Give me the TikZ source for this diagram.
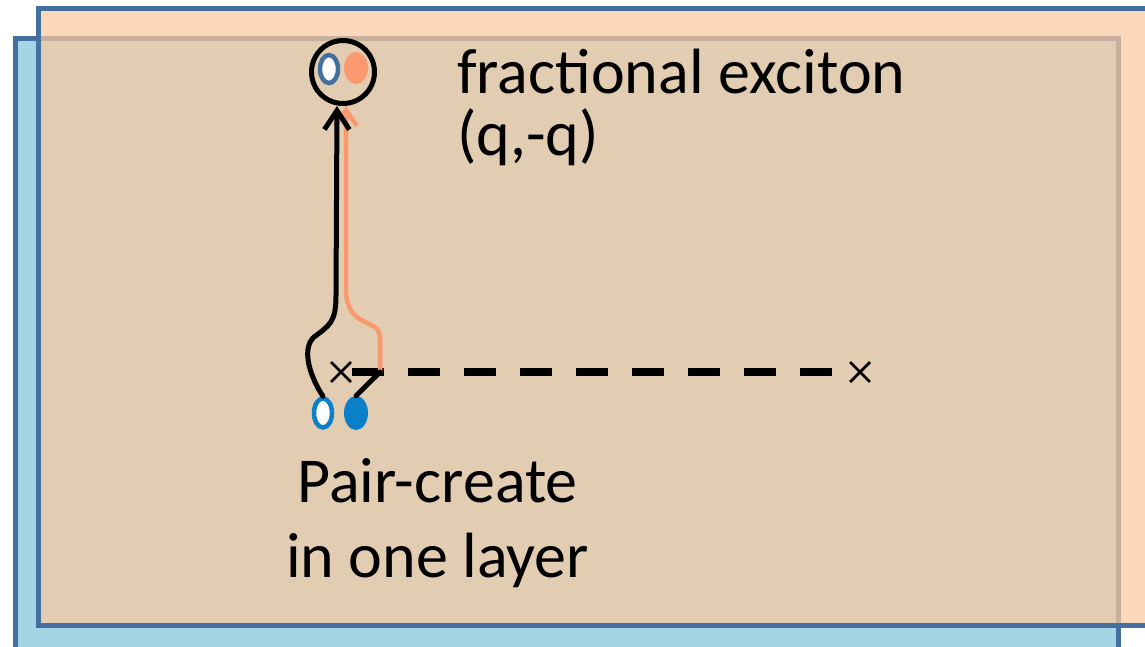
\documentclass[tikz,border=0pt]{standalone}
\usepackage{fontspec}
\setmainfont{Carlito}
\usetikzlibrary{shapes.geometric,shapes.misc,arrows.meta}
\definecolor{frameblue}{RGB}{68,112,160}
\definecolor{lightblue}{RGB}{163,213,229}
\definecolor{layerorange}{RGB}{251,201,159}
\definecolor{salmon}{RGB}{250,152,112}
\definecolor{brightblue}{RGB}{10,128,200}
\tikzset{
  layerA/.style={draw=frameblue,line width=5pt,fill=lightblue},
  layerB/.style={draw=frameblue,line width=5pt,fill=layerorange,fill opacity=0.72,draw opacity=1},
  lbl/.style={font=\fontsize{64}{64}\selectfont,inner sep=0pt},
  quasi/.style={ellipse,inner sep=0pt,minimum width=20pt,minimum height=31pt},
  crossmark/.style={cross out,draw=black,line width=2.8pt,minimum size=17pt,inner sep=0pt},
  branchcut/.style={line width=8pt,dash pattern=on 32pt off 24pt},
  worldblack/.style={line width=5pt,black,line cap=round},
  worldorange/.style={line width=4.5pt,salmon,line cap=round},
}
\begin{document}
\begin{tikzpicture}[x=1pt,y=-1pt]
\useasboundingbox (0,0) rectangle (1145,646);
% layers
\draw[layerA] (15.5,38.5) rectangle (1118.5,680);
\draw[layerB] (38,8.5) rectangle (1180,625.5);
% top exciton
\node[circle,draw=black,line width=5pt,minimum size=63pt,inner sep=0pt] (exc) at (343,72) {};
\node[quasi,draw=frameblue,line width=4.5pt,fill=white,minimum width=18pt,minimum height=28pt] (eA) at (329,69) {};
\node[quasi,fill=salmon,minimum width=24pt,minimum height=32pt] (eB) at (356,68) {};
% crosses and branch cut
\node[crossmark] (xL) at (341,372) {};
\node[crossmark] (xR) at (860,372) {};
\coordinate (cutL) at (352,372);
\coordinate (cutR) at (832,372);
\draw[branchcut] (cutL) -- (cutR);
% bottom pair
\node[quasi,draw=brightblue,line width=4.5pt,fill=white,minimum width=18pt,minimum height=29pt] (pA) at (323,413) {};
\node[quasi,fill=brightblue,minimum width=24pt,minimum height=34pt] (pB) at (356,413) {};
% paths
\coordinate (cross) at (380,372);
\draw[worldorange,-{Straight Barb[length=16pt,width=22pt,line width=4.5pt]}]
  (cross) -- (380,338) .. controls (380,322) and (362,326) .. (352,312)
  .. controls (346,302) and (346,296) .. (346,285) -- ([xshift=3pt]exc.south);
\draw[worldblack] (pB.north) -- (cross);
\draw[worldblack,-{Straight Barb[length=19pt,width=25pt,line width=5pt]}]
  (pA.north) .. controls (312,380) and (300,350) .. (314,337)
  .. controls (330,325) and (336,322) .. (336,295) -- ([xshift=-6pt]exc.south);
% labels
\node[lbl,anchor=base west] (t1) at (457,93) {fractional exciton};
\node[lbl,anchor=base west] (t2) at (457,155) {(q,-q)};
\node[lbl,anchor=base] (b1) at (437.5,502) {Pair-create};
\node[lbl,anchor=base] (b2) at (437.5,577) {in one layer};
\end{tikzpicture}
\end{document}
